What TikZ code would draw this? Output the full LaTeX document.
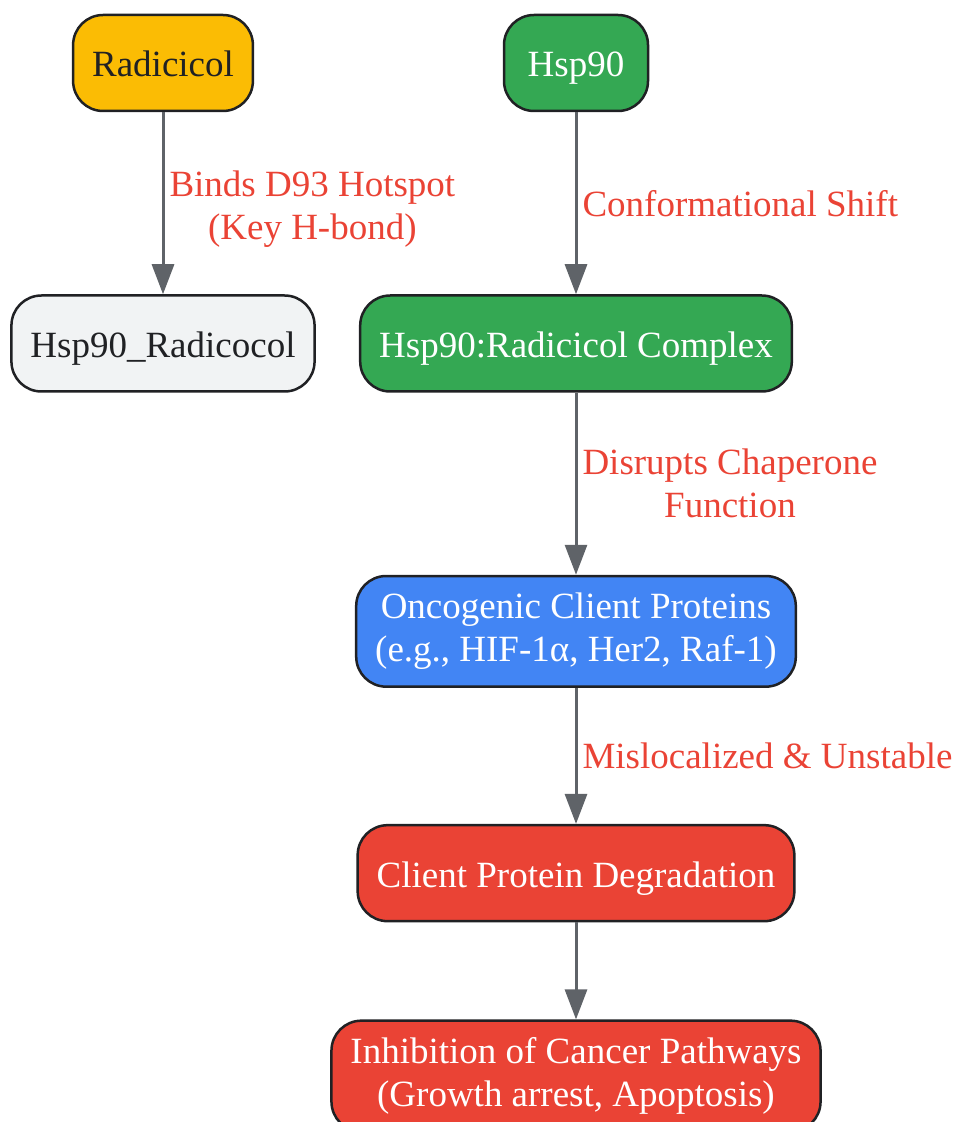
\documentclass[tikz,border=0pt]{standalone}
\usepackage{fontspec}
\setmainfont{Liberation Serif}
\usepackage{tikz}
\usetikzlibrary{arrows.meta,positioning,calc}
\definecolor{radyellow}{HTML}{FBBC04}
\definecolor{hspgreen}{HTML}{34A853}
\definecolor{clientblue}{HTML}{4285F4}
\definecolor{fatered}{HTML}{EA4335}
\definecolor{paleGray}{HTML}{F1F3F4}
\definecolor{inkDark}{HTML}{202124}
\definecolor{arrowGray}{HTML}{5F6368}
\tikzstyle{pathbox}=[draw=inkDark,line width=1.25pt,rounded corners=15pt,minimum height=48pt,inner xsep=9.5pt,inner ysep=8.5pt,align=center,font=\fontsize{18.5pt}{21.5pt}\selectfont]
\tikzstyle{oneline}=[text height=15pt,text depth=1pt]
\tikzstyle{drugbox}=[pathbox,oneline,fill=radyellow,text=inkDark]
\tikzstyle{plainbox}=[pathbox,oneline,fill=paleGray,text=inkDark]
\tikzstyle{targetbox}=[pathbox,oneline,fill=hspgreen,text=white]
\tikzstyle{clientbox}=[pathbox,fill=clientblue,text=white]
\tikzstyle{fatebox}=[pathbox,fill=fatered,text=white]
\tikzstyle{flow}=[draw=arrowGray,line width=1.5pt,-{Triangle[length=15pt,width=11pt]}]
\tikzstyle{edgelabel}=[midway,right,inner xsep=2.5pt,align=center,text=fatered,font=\fontsize{18.5pt}{21.5pt}\selectfont]

\begin{document}
\begin{tikzpicture}
    \useasboundingbox (0,0) rectangle (478.5pt,-561pt);
    % top row
    \node [drugbox] (radicicol) at (81.5pt,-31.5pt) {Radicicol};
    \node [targetbox, minimum width=72pt] (hsp) at (288pt,-31.5pt) {Hsp90};
    % second row
    \node [plainbox, below=91pt of radicicol] (hspradi) {Hsp90\_Radicocol};
    \node [targetbox, below=91pt of hsp] (complex) {Hsp90:Radicicol Complex};
    % downstream chain
    \node [clientbox, below=91pt of complex] (client)
      {Oncogenic Client Proteins\\(e.g., HIF-1α, Her2, Raf-1)};
    \node [fatebox, oneline, below=68pt of client] (degrade) {Client Protein Degradation};
    \node [fatebox, below=48.5pt of degrade] (inhibit)
      {Inhibition of Cancer Pathways\\(Growth arrest, Apoptosis)};

    \draw [flow] (radicicol) -- node [edgelabel, yshift=-3pt] {Binds D93 Hotspot\\(Key H-bond)} (hspradi);
    \draw [flow] (hsp) -- node [edgelabel] {Conformational Shift} (complex);
    \draw [flow] (complex) -- node [edgelabel] {Disrupts Chaperone\\Function} (client);
    \draw [flow] (client) -- node [edgelabel] {Mislocalized \& Unstable} (degrade);
    \draw [flow] (degrade) -- (inhibit);
\end{tikzpicture}
\end{document}
